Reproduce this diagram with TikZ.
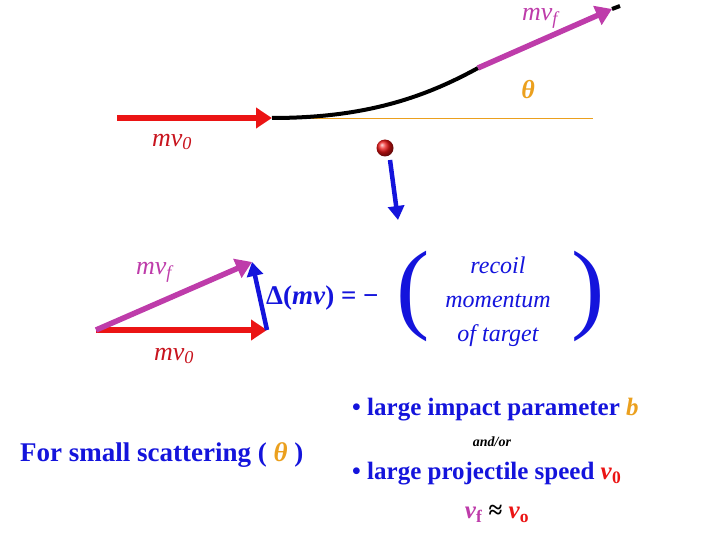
\documentclass[tikz,border=0pt]{standalone}
\usepackage{fontspec}
\setmainfont{Liberation Serif}
\usetikzlibrary{arrows.meta}
\definecolor{mag}{RGB}{190,60,170}
\definecolor{rd}{RGB}{235,20,20}
\definecolor{bl}{RGB}{20,20,220}
\definecolor{orng}{RGB}{235,160,30}
\definecolor{dred}{RGB}{200,20,30}
\tikzset{vec/.style={line width=5.5pt,-{Triangle[length=16pt,width=20pt]}},
 lbl/.style={inner sep=0pt,font=\fontsize{26}{28}\selectfont\itshape},
 txt/.style={inner sep=0pt,font=\fontsize{25}{28}\selectfont\bfseries,text=bl}}
\begin{document}
\begin{tikzpicture}[x=1pt,y=-1pt]
\useasboundingbox (0,0) rectangle (720,540);
% top
\coordinate (a0) at (117,118);
\coordinate (a1) at (272,118);
\coordinate (c1) at (478,68);
\coordinate (c2) at (620,6);
\draw[orng,line width=0.8pt] (300,118) -- (593,118);
\draw[vec,rd] (a0) -- (a1);
\draw[black,line width=4pt] (a1) .. controls (360,118) and (420,100) .. (c1);
\draw[vec,mag] (c1) -- (612,9);
\draw[black,line width=4pt] (612,9) -- (c2);
\node[lbl,text=mag] (lf) at (540,18) {mv\textsubscript{f}};
\node[lbl,text=dred] (l0) at (172,142) {mv\textsubscript{0}};
\node[inner sep=0pt,text=orng,font=\fontsize{26}{26}\selectfont\bfseries\itshape] (th) at (528,90) {θ};
\shade[ball color=rd] (385,148) circle (8.5);
\coordinate (d0) at (390,160);
\coordinate (d1) at (398,220);
\draw[vec,bl,line width=4.5pt,-{Triangle[length=14pt,width=16pt]}] (d0) -- (d1);
% lower triangle
\coordinate (p0) at (96,330);
\coordinate (p1) at (267,330);
\coordinate (p2) at (252,262);
\draw[vec,rd] (p0) -- (p1);
\draw[vec,mag] (p0) -- (p2);
\draw[vec,bl,line width=4.5pt,-{Triangle[length=14pt,width=16pt]}] (p1) -- (p2);
\node[lbl,text=mag] (lf2) at (154,272) {mv\textsubscript{f}};
\node[lbl,text=dred] (l02) at (174,356) {mv\textsubscript{0}};
\node[txt,anchor=west,font=\fontsize{27}{28}\selectfont\bfseries] (eq) at (266,298) {Δ(\textit{mv}) = −};
\node[inner sep=0pt,text=bl,font=\fontsize{100}{100}\selectfont] (lp) at (413,296) {(};
\node[inner sep=0pt,text=bl,font=\fontsize{100}{100}\selectfont] (rp) at (588,296) {)};
\node[inner sep=0pt,text=bl,align=center,font=\fontsize{24}{34}\selectfont\itshape] (rec) at (498,302) {recoil\\momentum\\of target};
% bottom text
\node[txt,anchor=west,font=\fontsize{27}{28}\selectfont\bfseries] (fs) at (20,455) {For small scattering ( \textcolor{orng}{\textit{θ}} )};
\node[txt,anchor=west] (b1) at (352,410) {• large impact parameter \textcolor{orng}{\textit{b}}};
\node[inner sep=0pt,font=\fontsize{14}{14}\selectfont\bfseries\itshape] (ao) at (492,442) {and/or};
\node[txt,anchor=west] (b2) at (352,474) {• large projectile speed \textcolor{rd}{\textit{v}\textsubscript{0}}};
\node[txt] (ap) at (497,514) {\textcolor{mag}{\textit{v}\textsubscript{f}} \textcolor{black}{≈} \textcolor{rd}{\textit{v}\textsubscript{o}}};
\end{tikzpicture}
\end{document}
